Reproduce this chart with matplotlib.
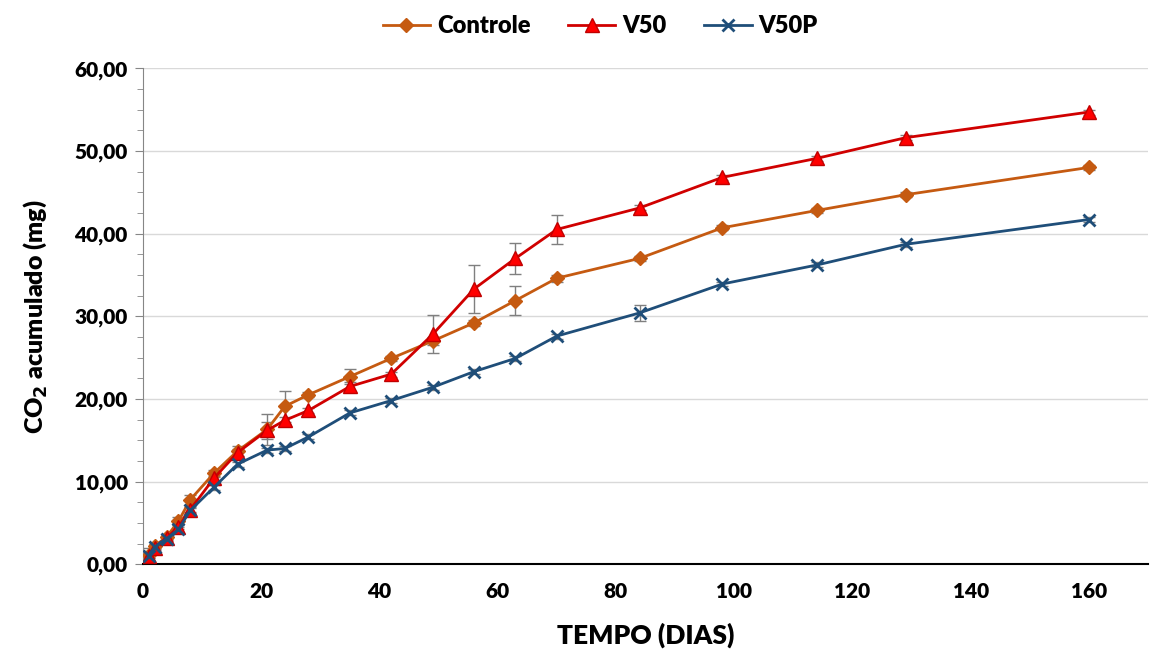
import numpy as np
import matplotlib.pyplot as plt
from matplotlib.ticker import FuncFormatter, MultipleLocator

plt.rcParams['font.family'] = ['Lato', 'DejaVu Sans']

# incubation days
dias = [1, 2, 4, 6, 8, 12, 16, 21, 24, 28, 35, 42, 49, 56, 63, 70, 84, 98, 114, 129, 160]

# accumulated CO2 (mg)
controle = [1.1, 2.2, 3.3, 5.2, 7.8, 11.0, 13.7, 16.3, 19.1, 20.5, 22.7, 24.9, 27.0,
            29.2, 31.9, 34.6, 37.0, 40.7, 42.8, 44.7, 48.0]
v50 = [1.0, 2.0, 3.2, 4.5, 6.6, 10.4, 13.5, 16.2, 17.4, 18.6, 21.5, 23.0, 27.8,
       33.3, 37.0, 40.5, 43.1, 46.8, 49.1, 51.6, 54.7]
v50p = [1.0, 2.1, 3.1, 4.2, 6.5, 9.3, 12.1, 13.8, 14.0, 15.4, 18.3, 19.8, 21.4,
        23.3, 24.9, 27.6, 30.4, 33.9, 36.2, 38.7, 41.7]

# standard deviations
controle_err = [0.9, 0.3, 0.3, 0.5, 0.6, 0.4, 0.6, 1.9, 1.9, 0.3, 0.9, 0.3, 0.5,
                0.4, 1.7, 0.4, 0.3, 0.3, 0.3, 0.3, 0.3]
v50_err = [0.3, 0.3, 0.3, 0.3, 0.3, 0.3, 0.4, 1.0, 0.4, 0.3, 0.5, 0.3, 2.3,
           2.9, 1.85, 1.75, 0.3, 0.3, 0.3, 0.3, 0.3]
v50p_err = [0.3, 0.3, 0.3, 0.3, 0.3, 0.3, 0.3, 0.3, 0.3, 0.3, 0.3, 0.3, 0.3,
            0.3, 0.3, 0.3, 0.95, 0.3, 0.3, 0.3, 0.3]

series = [
    ("Controle", controle, controle_err, dict(color="#C55A11", marker="D", markersize=7,
                                              markerfacecolor="#C55A11", markeredgecolor="#C55A11")),
    ("V50", v50, v50_err, dict(color="#D00000", marker="^", markersize=10,
                               markerfacecolor="#FF0000", markeredgecolor="#C00000")),
    ("V50P", v50p, v50p_err, dict(color="#1F4E79", marker="x", markersize=9,
                                  markeredgewidth=2)),
]

fig = plt.figure(figsize=(11.5, 6.5), dpi=100)
ax = fig.add_axes([0.1243, 0.132, 0.874, 0.763])

for nome, vals, err, estilo in series:
    ax.errorbar(dias, vals, yerr=err, fmt="none", ecolor="#7F7F7F", elinewidth=1,
                capsize=4, capthick=1, zorder=2)
for nome, vals, err, estilo in series:
    ax.plot(dias, vals, linewidth=2, label=nome, zorder=3, **estilo)

ax.set_xlim(0, 170)
ax.set_ylim(0, 60)
ax.set_xticks(np.arange(0, 161, 20))
ax.yaxis.set_major_locator(MultipleLocator(10))
ax.yaxis.set_minor_locator(MultipleLocator(2.5))
ax.yaxis.set_major_formatter(FuncFormatter(lambda v, p: f"{v:.2f}".replace(".", ",")))

ax.grid(axis="y", which="major", color="#D9D9D9", linewidth=1)
ax.set_axisbelow(True)
for lado in ("top", "right"):
    ax.spines[lado].set_visible(False)
ax.spines["left"].set_color("#868686")
ax.spines["bottom"].set_color("black")
ax.spines["bottom"].set_linewidth(1.5)

ax.tick_params(axis="x", length=0, pad=13, labelsize=15)
ax.tick_params(axis="y", which="major", length=6, color="#868686", labelsize=15, pad=5)
ax.tick_params(axis="y", which="minor", length=4, color="#868686")
for lbl in ax.get_xticklabels() + ax.get_yticklabels():
    lbl.set_fontweight("heavy")

ax.set_xlabel("TEMPO (DIAS)", fontsize=19, fontweight="heavy", labelpad=15)
ax.set_ylabel(r"CO$_\mathbf{2}$ acumulado (mg)", fontsize=18, fontweight="heavy", labelpad=18)

ax.legend(loc="lower center", bbox_to_anchor=(0.455, 1.02), ncol=3, frameon=False,
          prop=dict(size=17, weight="heavy"), handlelength=2.0, columnspacing=1.6,
          handletextpad=0.3)

fig.savefig("out.png", dpi=100)
